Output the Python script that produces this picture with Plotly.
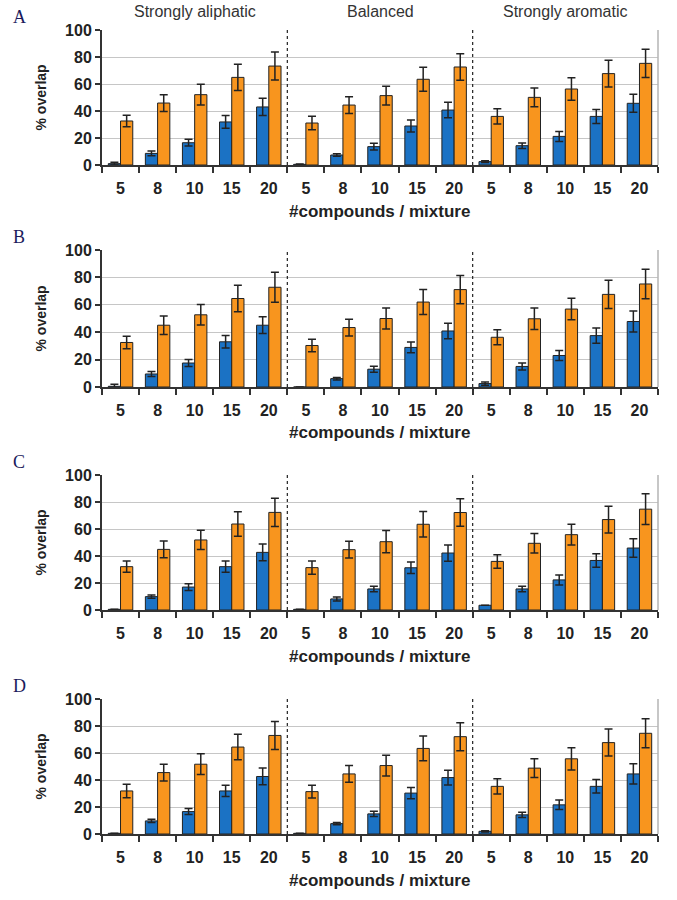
import plotly.graph_objects as go

# ---------------- data ----------------
panels = ["A", "B", "C", "D"]
groups = ["Strongly aliphatic", "Balanced", "Strongly aromatic"]
mixtures = ["5", "8", "10", "15", "20"]
y_ticks = [0, 20, 40, 60, 80, 100]

a_blue = [1, 8.6, 16.5, 31.9, 43, 0.5, 7.4, 13.6, 28.9, 40.7, 2.5, 14.3, 21.2, 36, 45.7]
a_blue_err = [1, 1.7, 2.5, 4.7, 6.4, 0.3, 1, 2.5, 4.4, 5.7, 0.7, 2, 3.7, 5.2, 6.7]
a_orange = [32.6, 45.9, 52.1, 64.9, 73.3, 31.1, 44.4, 51.4, 63.5, 72.6, 36, 50.1, 56.3, 67.7, 75.3]
a_orange_err = [4.3, 6.2, 7.7, 9.7, 10.4, 5, 6.2, 7, 8.9, 9.9, 5.7, 6.9, 8.4, 9.9, 10.4]

b_blue = [0.5, 9.5, 17.5, 33, 45.1, 0, 6.1, 13, 28.9, 40.9, 2.5, 15, 23, 37.5, 47.8]
b_blue_err = [1.5, 1.9, 2.6, 4.6, 6.1, 0, 0.9, 2.2, 3.9, 5.6, 1.2, 2.6, 3.7, 5.6, 7.6]
b_orange = [32.5, 45.1, 52.7, 64.6, 72.8, 30.3, 43.4, 50, 62, 71.1, 36.3, 49.8, 56.9, 67.6, 75.2]
b_orange_err = [4.6, 6.8, 7.5, 9.7, 10.9, 4.6, 6.1, 7.6, 9.1, 10.3, 5.4, 7.8, 7.8, 10.3, 10.8]

c_blue = [0.5, 9.9, 17, 32.1, 42.7, 0.5, 8.2, 15.6, 31.3, 42.2, 3.5, 15.6, 22.3, 36.7, 45.9]
c_blue_err = [0, 1.2, 2.5, 4.2, 6.2, 0, 1.5, 2, 4.2, 6, 0, 2, 3.7, 5, 6.9]
c_orange = [32.1, 44.9, 51.9, 63.7, 72.3, 31.4, 44.7, 50.6, 63.5, 72.2, 36, 49.4, 55.8, 67, 74.7]
c_orange_err = [4.2, 6.2, 7.1, 9.1, 10.4, 4.9, 6.2, 8.2, 9.4, 10.2, 5, 7.2, 7.7, 9.9, 11.4]

d_blue = [0.5, 9.7, 16.6, 31.9, 42.6, 0.5, 7.7, 14.9, 30.3, 41.8, 2, 14.2, 21.6, 35.3, 44.5]
d_blue_err = [0, 1.2, 2.2, 4.2, 6.2, 0, 0.8, 2, 4.2, 5.5, 0.5, 2, 3.5, 5, 7.5]
d_orange = [31.9, 45.5, 51.7, 64.4, 73, 31.4, 44.5, 50.7, 63.4, 72.1, 35.3, 48.8, 55.7, 67.7, 74.6]
d_orange_err = [5, 6.2, 7.7, 9.4, 10.4, 4.7, 6.2, 7.7, 9.2, 10.4, 5.7, 7, 8.2, 10, 10.7]

panel_data = [
    (a_blue, a_blue_err, a_orange, a_orange_err),
    (b_blue, b_blue_err, b_orange, b_orange_err),
    (c_blue, c_blue_err, c_orange, c_orange_err),
    (d_blue, d_blue_err, d_orange, d_orange_err),
]

# ---------------- style / layout ----------------
W, H = 677, 900
BLUE = "#1b72c4"
ORANGE = "#f8951e"
DARK = "#222222"
FONT = "Liberation Sans, Arial, sans-serif"

# plot-area pixel boxes (top, bottom) for each panel, in window pixels
x_left_px, x_right_px = 102, 658
panel_px = [(30, 165), (250, 387), (475, 610), (699, 834)]


def px_x(p):
    return p / W


def px_y(p):
    return 1 - p / H


n_cat = len(groups) * len(mixtures)
xs = list(range(n_cat))
ticktext = mixtures * len(groups)

fig = go.Figure()
annotations = []
shapes = []

for i, (blue, blue_err, orange, orange_err) in enumerate(panel_data):
    suffix = "" if i == 0 else str(i + 1)
    xref = "x" + suffix
    yref = "y" + suffix
    fig.add_trace(go.Bar(
        x=xs, y=blue, xaxis=xref, yaxis=yref,
        marker=dict(color=BLUE, line=dict(color=DARK, width=1)),
        error_y=dict(type="data", array=blue_err, color=DARK, thickness=1.5, width=4),
        showlegend=False, hoverinfo="y",
    ))
    fig.add_trace(go.Bar(
        x=xs, y=orange, xaxis=xref, yaxis=yref,
        marker=dict(color=ORANGE, line=dict(color=DARK, width=1)),
        error_y=dict(type="data", array=orange_err, color=DARK, thickness=1.5, width=4),
        showlegend=False, hoverinfo="y",
    ))

    top, bot = panel_px[i]
    xdom = [px_x(x_left_px), px_x(x_right_px)]
    ydom = [px_y(bot), px_y(top)]

    fig.update_layout({
        "xaxis" + suffix: dict(
            domain=xdom, anchor=yref, range=[-0.5, n_cat - 0.5], automargin=False,
            tickmode="array", tickvals=xs, ticktext=ticktext,
            ticks="outside", ticklen=8, tickcolor="rgba(0,0,0,0)",
            tickfont=dict(family=FONT, size=16, color=DARK, weight="bold"),
            showline=True, linecolor="#333333", linewidth=2,
            showgrid=False, zeroline=False,
            minor=dict(ticks="outside", ticklen=6, tickwidth=2, tickcolor="#333333",
                       tick0=-0.5, dtick=1, showgrid=False),
            fixedrange=True,
        ),
        "yaxis" + suffix: dict(
            domain=ydom, anchor=xref, range=[0, 100], automargin=False,
            tickmode="array", tickvals=y_ticks,
            ticks="outside", ticklen=5, tickwidth=2, tickcolor="#333333",
            tickfont=dict(family=FONT, size=16, color=DARK, weight="bold"),
            showline=True, linecolor="#333333", linewidth=2,
            showgrid=True, gridcolor="#c6c6c6", gridwidth=1,
            zeroline=False, fixedrange=True,
        ),
    })

    # right border of plot area
    shapes.append(dict(type="line", xref=xref + " domain", yref=yref,
                       x0=1, x1=1, y0=0, y1=100,
                       line=dict(color="#b5b5b5", width=1.5)))
    # dotted separators between groups
    for g in range(1, len(groups)):
        xb = g * len(mixtures) - 0.5
        shapes.append(dict(type="line", xref=xref, yref=yref,
                           x0=xb, x1=xb, y0=0, y1=100,
                           line=dict(color="#222222", width=1.2, dash="dot")))

    # panel letter
    annotations.append(dict(text=panels[i], xref="paper", yref="paper",
                            x=px_x(11), y=px_y(top - 13), xanchor="left", yanchor="middle",
                            showarrow=False,
                            font=dict(family="Liberation Serif, Times New Roman, serif",
                                      size=18, color="#1b1b5c")))
    # y-axis title
    annotations.append(dict(text="% overlap", xref="paper", yref="paper",
                            x=px_x(40), y=px_y((top + bot) / 2), textangle=-90,
                            xanchor="center", yanchor="middle", showarrow=False,
                            font=dict(family=FONT, size=14, color=DARK, weight="bold")))
    # x-axis title
    annotations.append(dict(text="#compounds / mixture", xref="paper", yref="paper",
                            x=px_x(380), y=px_y(bot + 46), xanchor="center", yanchor="middle",
                            showarrow=False,
                            font=dict(family=FONT, size=17, color=DARK, weight="bold")))

# group titles on top panel
for g, name in enumerate(groups):
    center = g * len(mixtures) + (len(mixtures) - 1) / 2
    annotations.append(dict(text=name, xref="x", yref="paper",
                            x=center, y=px_y(12), xanchor="center", yanchor="middle",
                            showarrow=False,
                            font=dict(family=FONT, size=16, color="#333333")))

fig.update_layout(
    width=W, height=H,
    margin=dict(l=0, r=0, t=0, b=0, autoexpand=False),
    paper_bgcolor="white", plot_bgcolor="white",
    barmode="group", bargap=0.34, bargroupgap=0,
    showlegend=False, hovermode=False,
    annotations=annotations, shapes=shapes,
)

fig.write_html("out.html",
               config={"displayModeBar": False, "staticPlot": True},
               post_script="document.body.style.margin='0';document.body.style.padding='0';")
